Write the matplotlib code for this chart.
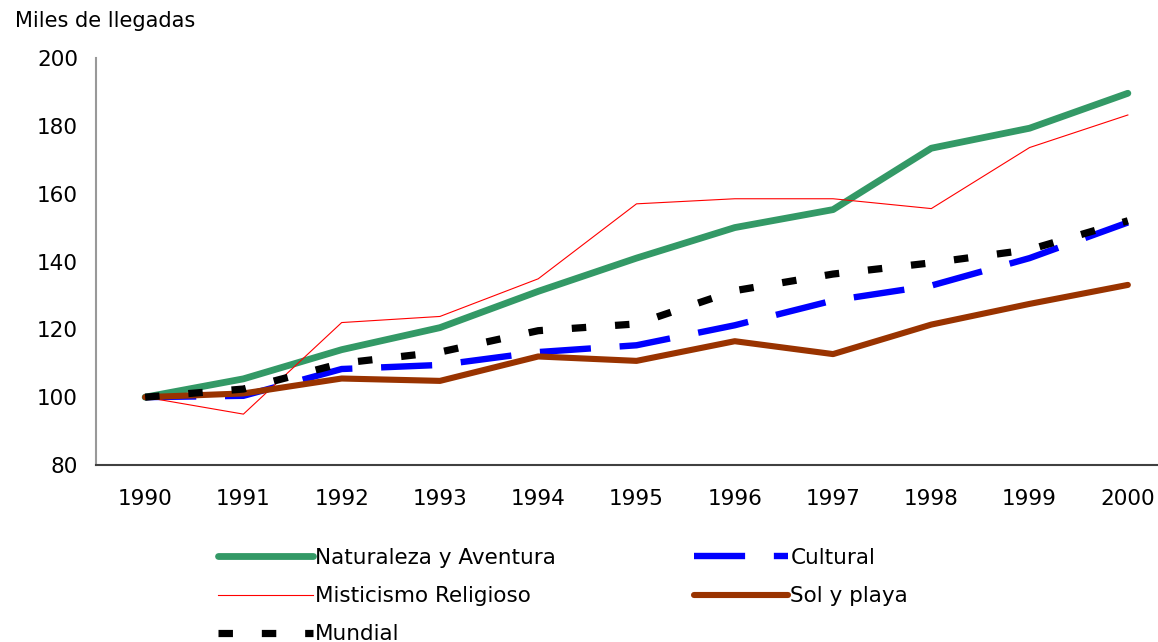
import matplotlib
matplotlib.use("Agg")
import matplotlib.pyplot as plt

plt.rcParams['font.family'] = ['DejaVu Sans']

years = ["1990", "1991", "1992", "1993", "1994", "1995", "1996", "1997", "1998", "1999", "2000"]
naturaleza = [100, 105.4, 114.0, 120.5, 131.2, 141.0, 150.0, 155.3, 173.4, 179.3, 189.6]
misticismo = [100, 95.0, 122.0, 123.8, 134.9, 157.0, 158.5, 158.5, 155.6, 173.6, 183.2]
cultural = [100, 100.4, 108.3, 109.5, 113.3, 115.3, 121.2, 128.5, 132.9, 141.0, 151.5]
mundial = [100, 102.4, 110.0, 113.3, 119.6, 121.6, 131.4, 136.3, 139.6, 143.5, 152.0]
sol_playa = [100, 101.1, 105.5, 104.8, 112.0, 110.7, 116.5, 112.7, 121.4, 127.5, 133.1]

W, H = 1158, 642
fig = plt.figure(figsize=(W / 100, H / 100), dpi=100)
ax = fig.add_axes([96 / W, 1 - 465 / H, (1177 - 96) / W, (465 - 58) / H])

x = list(range(len(years)))

l_cul, = ax.plot(x, cultural, color="#0000FF", lw=4.6, dashes=(8.0, 4.5),
                 dash_capstyle="butt", label="Cultural", zorder=2)
l_nat, = ax.plot(x, naturaleza, color="#339966", lw=4.9, solid_capstyle="round",
                 label="Naturaleza y Aventura", zorder=3)
l_mis, = ax.plot(x, misticismo, color="#FF0000", lw=0.8, label="Misticismo Religioso", zorder=4)
l_sol, = ax.plot(x, sol_playa, color="#993300", lw=4.4, solid_capstyle="round",
                 label="Sol y playa", zorder=5)
l_mun, = ax.plot(x, mundial, color="#000000", lw=5.2, dashes=(2.0, 4.0),
                 dash_capstyle="butt", label="Mundial", zorder=6)

ax.set_xlim(-0.5, 10.5)
ax.set_ylim(80, 200)
ax.set_yticks([80, 100, 120, 140, 160, 180, 200])
ax.set_xticks(x)
ax.set_xticklabels(years)
ax.tick_params(axis="both", length=0, labelsize=15.5)
ax.tick_params(axis="y", pad=13)
ax.tick_params(axis="x", pad=17)

for s in ["top", "right"]:
    ax.spines[s].set_visible(False)
ax.spines["left"].set_color("#999999")
ax.spines["left"].set_linewidth(1.5)
ax.spines["bottom"].set_color("#404040")
ax.spines["bottom"].set_linewidth(1.5)

fig.text(15 / W, 1 - 21 / H, "Miles de llegadas", fontsize=15, ha="left", va="center")

handles = [l_nat, l_mis, l_mun, l_cul, l_sol]
labels = [h.get_label() for h in handles]
fig.legend(handles, labels, ncol=2, loc="upper left",
           bbox_to_anchor=(218 / W, 1 - 548 / H), frameon=False,
           fontsize=15.5, handlelength=4.4, handletextpad=0.1,
           columnspacing=6.4, labelspacing=0.84, borderpad=0, borderaxespad=0)

fig.savefig("out.png", dpi=100)
